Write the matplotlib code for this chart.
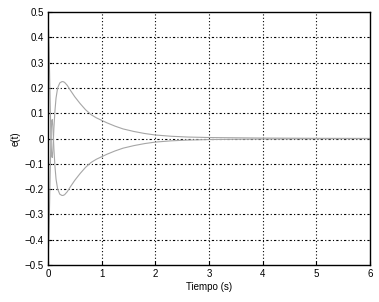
import matplotlib
matplotlib.use("Agg")
import matplotlib.pyplot as plt

# readings (time in s, error)
t_upper = [0, 0.01, 0.02, 0.03, 0.04, 0.05, 0.06, 0.07, 0.08, 0.09, 0.10, 0.11, 0.13,
           0.15, 0.18, 0.22, 0.26, 0.28, 0.31, 0.36, 0.42, 0.5, 0.6, 0.7, 0.8, 0.9,
           1.0, 1.1, 1.25, 1.4, 1.6, 1.8, 2.0, 2.3, 2.6, 3.0, 3.5, 4.0, 5.0, 6.0]
e_upper = [0.45, 0.43, 0.36, 0.26, 0.15, 0.05, -0.03, -0.07, -0.075, -0.05, -0.01, 0.04, 0.11,
           0.16, 0.20, 0.22, 0.225, 0.225, 0.222, 0.21, 0.19, 0.165, 0.138, 0.114, 0.095, 0.082,
           0.072, 0.062, 0.049, 0.038, 0.028, 0.02, 0.014, 0.009, 0.006, 0.004, 0.003, 0.002, 0.001, 0.0005]
t_lower = t_upper
e_lower = [-v for v in e_upper]

xticks = [0, 1, 2, 3, 4, 5, 6]
yticks = [-0.5, -0.4, -0.3, -0.2, -0.1, 0, 0.1, 0.2, 0.3, 0.4, 0.5]
ytick_labels = ["\u22120.5", "\u22120.4", "\u22120.3", "\u22120.2", "\u22120.1", "0",
                "0.1", "0.2", "0.3", "0.4", "0.5"]

plt.rcParams['font.family'] = ['Liberation Sans', 'DejaVu Sans']

fig = plt.figure(figsize=(3.79, 3.02), dpi=100)
ax = fig.add_axes([0.1266, 0.1225, 0.8494, 0.8375])

ax.plot(t_upper, e_upper, color='#a6a6a6', lw=0.8)
ax.plot(t_lower, e_lower, color='#a6a6a6', lw=0.8)

ax.set_xlim(0, 6)
ax.set_ylim(-0.5, 0.5)
ax.set_xticks(xticks)
ax.set_xticklabels([str(v) for v in xticks])
ax.set_yticks(yticks)
ax.set_yticklabels(ytick_labels)
ax.tick_params(direction='in', length=3, width=0.8, labelsize=7, pad=3, color='black')

for x in xticks[1:-1]:
    ax.axvline(x, color='black', lw=0.8, ls=(0, (1, 2)), zorder=0)
for y in yticks[1:-1]:
    ax.axhline(y, color='black', lw=0.8, ls=(0, (2, 2, 1, 2)), zorder=0)

for s in ax.spines.values():
    s.set_linewidth(1.0)

ax.set_xlabel('Tiempo (s)', fontsize=7, labelpad=2)
ax.set_ylabel('e(t)', fontsize=7, labelpad=3)

fig.savefig('out.png', dpi=100)
